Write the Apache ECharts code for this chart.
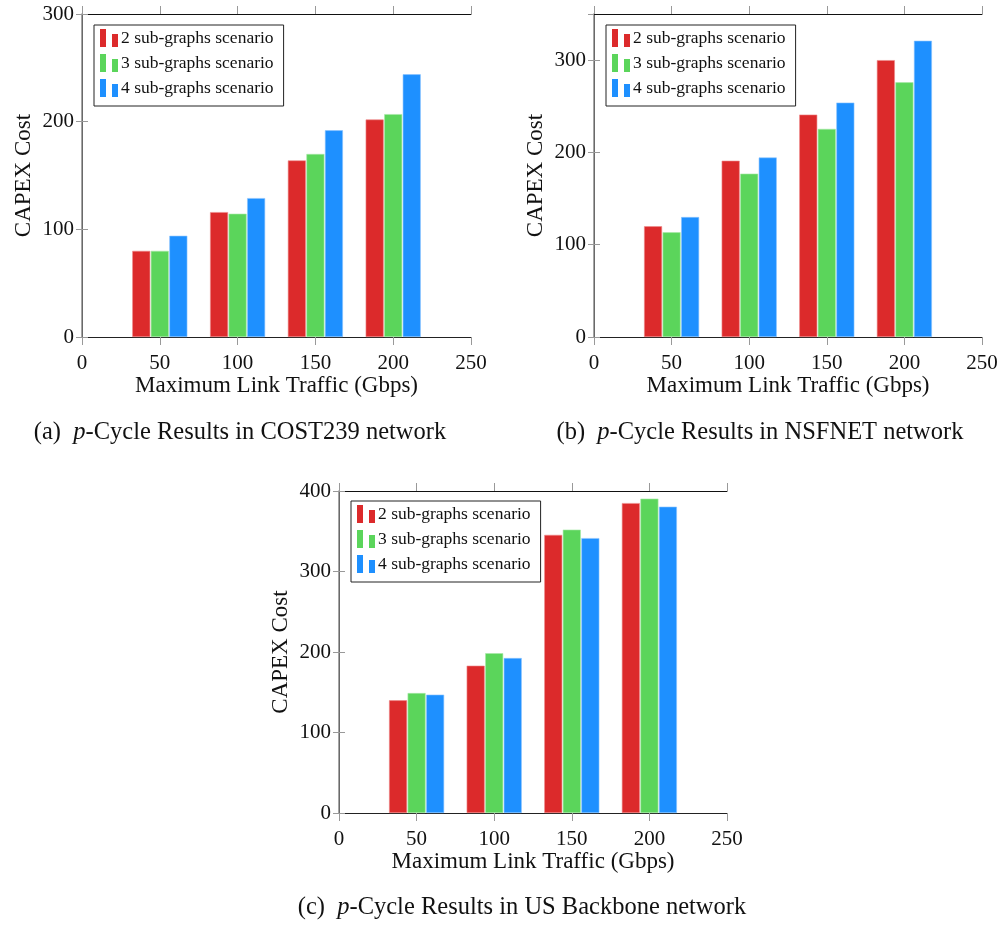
<!DOCTYPE html>
<html>
<head>
<meta charset="utf-8">
<script src="https://cdn.jsdelivr.net/npm/echarts@6/dist/echarts.min.js"></script>
<style>
  html, body { margin: 0; padding: 0; background: #fff; }
  #chart { width: 1004px; height: 925px; }
</style>
</head>
<body>
<div id="chart"></div>
<script>
const traffic = [50, 100, 150, 200, 250];
const scenarioNames = ["2 sub-graphs scenario", "3 sub-graphs scenario", "4 sub-graphs scenario"];
const colors = ["#dc2a2b", "#5bd55b", "#1e90ff"];
const borderColors = ["#ee8a8a", "#a8eaa8", "#8cc4ff"];

// (a) COST239
const cost239Two = [80, 116, 164, 202, 0];
const cost239Three = [80, 114.5, 170, 207, 0];
const cost239Four = [94, 129, 192, 244, 0];
// (b) NSFNET
const nsfnetTwo = [120, 191, 241, 300, 0];
const nsfnetThree = [113.5, 177, 225.5, 276, 0];
const nsfnetFour = [130, 194.5, 254, 321, 0];
// (c) US Backbone
const usTwo = [140, 183, 345.5, 385, 0];
const usThree = [149, 198.5, 352, 390.5, 0];
const usFour = [147, 192.5, 341.5, 380.5, 0];

const yMax = [300, 350, 400];

const font = "Liberation Serif";
const panels = [
  { grid: { left: 82, top: 14, width: 389, height: 323 }, legend: { left: 94, top: 25 }, data: [cost239Two, cost239Three, cost239Four] },
  { grid: { left: 594, top: 14, width: 388, height: 323 }, legend: { left: 606, top: 25 }, data: [nsfnetTwo, nsfnetThree, nsfnetFour] },
  { grid: { left: 339, top: 491, width: 388, height: 322 }, legend: { left: 351, top: 501 }, data: [usTwo, usThree, usFour] },
];

const chartInstance = echarts.init(document.getElementById("chart"));

const grid = [], xAxis = [], yAxis = [], series = [], legend = [];
panels.forEach((p, g) => {
  grid.push(p.grid);
  // bottom axis
  xAxis.push({
    type: "value", gridIndex: g, position: "bottom", min: 0, max: 250, interval: 50,
    name: "Maximum Link Traffic (Gbps)", nameLocation: "middle", nameGap: 37,
    nameTextStyle: { fontFamily: font, fontSize: 23, color: "#111" },
    axisLine: { show: true, onZero: false, lineStyle: { color: "#222", width: 1 } },
    axisTick: { show: true, inside: false, length: 8, lineStyle: { color: "#999" } },
    axisLabel: { fontFamily: font, fontSize: 21, color: "#111", margin: 16 },
    splitLine: { show: false },
  });
  // top axis
  xAxis.push({
    type: "value", gridIndex: g, position: "top", min: 0, max: 250, interval: 50,
    axisLine: { show: true, onZero: false, lineStyle: { color: "#111", width: 1 } },
    axisTick: { show: true, inside: false, length: 8, lineStyle: { color: "#999" } },
    axisLabel: { show: false },
    splitLine: { show: false },
  });
  yAxis.push({
    type: "value", gridIndex: g, position: "left", min: 0, max: yMax[g], interval: 100,
    name: "CAPEX Cost", nameLocation: "middle", nameGap: 47,
    nameTextStyle: { fontFamily: font, fontSize: 23, color: "#111" },
    axisLine: { show: true, lineStyle: { color: "#111", width: 1 } },
    axisTick: { show: true, inside: true, length: 6, lineStyle: { color: "#999" } },
    axisLabel: { fontFamily: font, fontSize: 21, color: "#111", margin: 8, showMaxLabel: yMax[g] % 100 === 0 },
    splitLine: { show: false },
  });
  yAxis.push({
    type: "value", gridIndex: g, position: "right", min: 0, max: yMax[g], interval: 100,
    axisLine: { show: true, lineStyle: { color: "#888", width: 1.5 } },
    axisTick: { show: true, inside: true, length: 6, lineStyle: { color: "#999" } },
    axisLabel: { show: false },
    splitLine: { show: false },
  });
  p.data.forEach((vals, s) => {
    series.push({
      type: "bar",
      name: scenarioNames[s],
      xAxisIndex: 2 * g,
      yAxisIndex: 2 * g,
      barWidth: 18,
      barGap: "3%",
      itemStyle: { color: colors[s], borderColor: borderColors[s], borderWidth: 0.6 },
      // zero-height bars at 250 would otherwise show a stray outline past the frame
      data: traffic.map((t, i) => vals[i] === 0
        ? { value: [t, vals[i]], itemStyle: { borderWidth: 0 } }
        : [t, vals[i]]),
    });
  });
  legend.push({
    left: p.legend.left, top: p.legend.top, orient: "vertical",
    data: scenarioNames,
    icon: "path://M0,0h6v18h-6z M12,5h6v13h-6z",
    itemWidth: 18, itemHeight: 18, itemGap: 7,
    itemStyle: { borderWidth: 0 },
    padding: [4, 10, 9, 6],
    borderColor: "#222", borderWidth: 1, backgroundColor: "#fff",
    textStyle: { fontFamily: font, fontSize: 17.5, color: "#111", padding: [0, 0, 0, -2] },
    selectedMode: false,
  });
});

const captions = [
  { x: 240, y: 433, label: "a", net: "COST239" },
  { x: 760, y: 433, label: "b", net: "NSFNET" },
  { x: 522, y: 908, label: "c", net: "US Backbone" },
];

chartInstance.setOption({
  animation: false,
  grid: grid,
  xAxis: xAxis,
  yAxis: yAxis,
  legend: legend,
  series: series,
  graphic: captions.map((c) => ({
    type: "text",
    x: c.x, y: c.y,
    style: {
      text: "(" + c.label + ")  {i|p}-Cycle Results in " + c.net + " network",
      rich: { i: { fontStyle: "italic", fontFamily: font, fontSize: 24.5, fill: "#111" } },
      fontFamily: font, fontSize: 24.5, fill: "#111",
      align: "center", verticalAlign: "middle",
    },
  })),
});
</script>
</body>
</html>
